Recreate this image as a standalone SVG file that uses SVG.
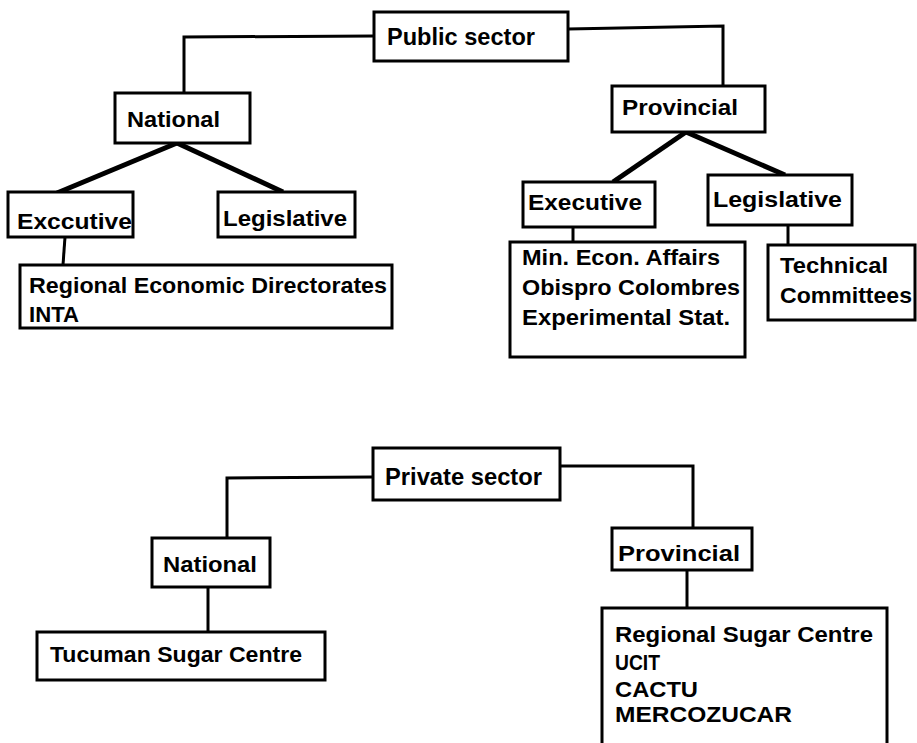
<svg xmlns="http://www.w3.org/2000/svg" width="917" height="743" viewBox="0 0 917 743">
<style>
.box{fill:#fff;stroke:#000;stroke-width:3}
.t{font-family:"Liberation Sans",Arial,sans-serif;font-weight:bold;font-size:22px;fill:#000}
.h{font-size:24px}
.ln{fill:none;stroke:#000;stroke-width:3}
.dg{fill:none;stroke:#000;stroke-width:5}
</style>
<rect width="917" height="743" fill="#fff"/>
<g id="connectors">
<polyline class="ln" points="374,36 184,37 184,93"/>
<polyline class="ln" points="568,29 723,26 723,86"/>
<line class="dg" x1="177" y1="143" x2="57" y2="193"/>
<line class="dg" x1="177" y1="143" x2="283" y2="192"/>
<line class="ln" x1="65" y1="237" x2="63" y2="265"/>
<line class="dg" x1="686" y1="132" x2="613" y2="182"/>
<line class="dg" x1="686" y1="132" x2="785" y2="175"/>
<line class="ln" x1="573" y1="227" x2="573" y2="242"/>
<line class="ln" x1="788" y1="225" x2="788" y2="245"/>
<polyline class="ln" points="373,477 227,478 227,538"/>
<polyline class="ln" points="560,466 693,466 693,528"/>
<line class="ln" x1="208" y1="587" x2="208" y2="632"/>
<line class="ln" x1="687" y1="570" x2="687" y2="608"/>
</g>
<g id="public-sector"><rect class="box" x="374" y="12" width="194" height="49"/><text class="t h" x="387" y="45" textLength="148" lengthAdjust="spacingAndGlyphs">Public sector</text></g>
<g id="national-public"><rect class="box" x="115" y="93" width="135" height="50"/><text class="t" x="127" y="127" textLength="93" lengthAdjust="spacingAndGlyphs">National</text></g>
<g id="executive-national"><rect class="box" x="8" y="192" width="125" height="45"/><text class="t" x="17" y="229" textLength="115" lengthAdjust="spacingAndGlyphs">Exccutive</text></g>
<g id="legislative-national"><rect class="box" x="218" y="192" width="137" height="45"/><text class="t" x="223" y="226" textLength="124" lengthAdjust="spacingAndGlyphs">Legislative</text></g>
<g id="regional-directorates"><rect class="box" x="20" y="265" width="372" height="63"/><text class="t" x="29" y="293" textLength="358" lengthAdjust="spacingAndGlyphs">Regional Economic Directorates</text><text class="t" x="29" y="322" textLength="50" lengthAdjust="spacingAndGlyphs">INTA</text></g>
<g id="provincial-public"><rect class="box" x="612" y="86" width="153" height="46"/><text class="t" x="622" y="115" textLength="116" lengthAdjust="spacingAndGlyphs">Provincial</text></g>
<g id="executive-provincial"><rect class="box" x="523" y="182" width="132" height="45"/><text class="t" x="528" y="210" textLength="114" lengthAdjust="spacingAndGlyphs">Executive</text></g>
<g id="legislative-provincial"><rect class="box" x="708" y="175" width="144" height="50"/><text class="t" x="713" y="207" textLength="129" lengthAdjust="spacingAndGlyphs">Legislative</text></g>
<g id="min-econ"><rect class="box" x="510" y="242" width="235" height="115"/><text class="t" x="522" y="265" textLength="198" lengthAdjust="spacingAndGlyphs">Min. Econ. Affairs</text><text class="t" x="522" y="295" textLength="218" lengthAdjust="spacingAndGlyphs">Obispro Colombres</text><text class="t" x="522" y="325" textLength="208" lengthAdjust="spacingAndGlyphs">Experimental Stat.</text></g>
<g id="technical-committees"><rect class="box" x="768" y="245" width="147" height="75"/><text class="t" x="780" y="273" textLength="108" lengthAdjust="spacingAndGlyphs">Technical</text><text class="t" x="780" y="303" textLength="132" lengthAdjust="spacingAndGlyphs">Committees</text></g>
<g id="private-sector"><rect class="box" x="373" y="448" width="187" height="52"/><text class="t h" x="385" y="485" textLength="157" lengthAdjust="spacingAndGlyphs">Private sector</text></g>
<g id="national-private"><rect class="box" x="152" y="538" width="118" height="49"/><text class="t" x="163" y="572" textLength="94" lengthAdjust="spacingAndGlyphs">National</text></g>
<g id="tucuman"><rect class="box" x="37" y="632" width="288" height="48"/><text class="t" x="50" y="662" textLength="252" lengthAdjust="spacingAndGlyphs">Tucuman Sugar Centre</text></g>
<g id="provincial-private"><rect class="box" x="612" y="528" width="140" height="42"/><text class="t" x="618" y="561" textLength="122" lengthAdjust="spacingAndGlyphs">Provincial</text></g>
<g id="regional-sugar"><rect class="box" x="602" y="608" width="285" height="145"/><text class="t" x="615" y="642" textLength="258" lengthAdjust="spacingAndGlyphs">Regional Sugar Centre</text><text class="t" x="615" y="670" textLength="45" lengthAdjust="spacingAndGlyphs">UCIT</text><text class="t" x="615" y="697" textLength="83" lengthAdjust="spacingAndGlyphs">CACTU</text><text class="t" x="615" y="722" textLength="177" lengthAdjust="spacingAndGlyphs">MERCOZUCAR</text></g>
</svg>
